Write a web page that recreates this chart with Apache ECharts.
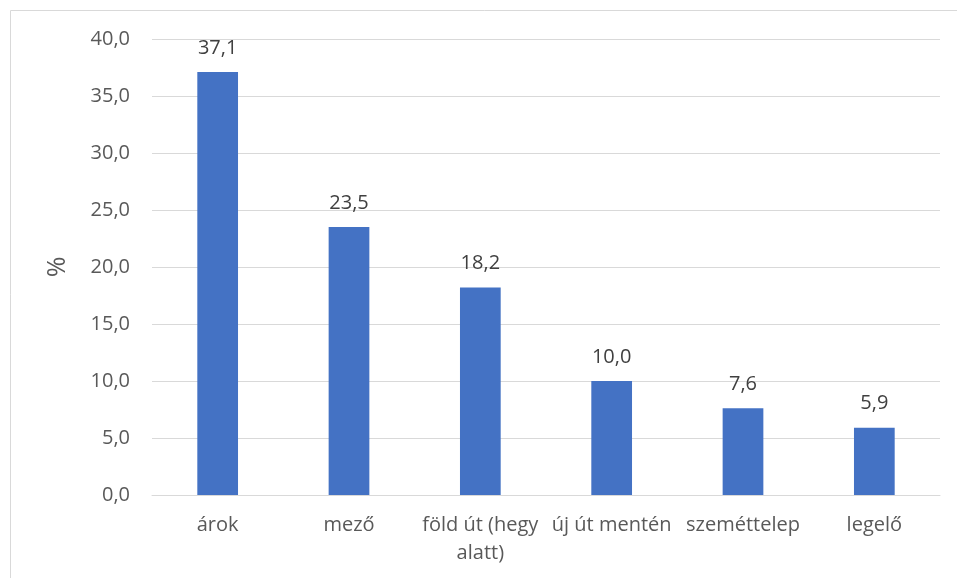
<!DOCTYPE html>
<html><head><meta charset="utf-8">
<script src="https://cdn.jsdelivr.net/npm/echarts@6/dist/echarts.min.js"></script>
<style>html,body{margin:0;padding:0;background:#fff}#c{width:957px;height:578px}</style>
</head><body><div id="c"></div>
<script>
const categories = ['árok', 'mező', 'föld út (hegy\nalatt)', 'új út mentén', 'szeméttelep', 'legelő'];
const values = [37.1, 23.5, 18.2, 10.0, 7.6, 5.9];
const yTicks = [0, 5, 10, 15, 20, 25, 30, 35, 40];
const fmt = v => Number(v).toFixed(1).replace('.', ',');
const chart = echarts.init(document.getElementById('c'));
const FONT = 'Open Sans';
chart.setOption({
  animation: false,
  textStyle: { fontFamily: FONT },
  graphic: [{ type: 'rect', shape: { x: 10.5, y: 10.5, width: 1000, height: 700 }, style: { fill: 'none', stroke: '#d9d9d9', lineWidth: 1 }, silent: true }],
  grid: { left: 152, right: 17, top: 39, bottom: 83, containLabel: false },
  xAxis: {
    type: 'category', data: categories,
    axisTick: { show: false },
    axisLine: { lineStyle: { color: '#d9d9d9', width: 1 } },
    axisLabel: { interval: 0, color: '#595959', fontSize: 20, fontFamily: FONT, margin: 16, lineHeight: 28 }
  },
  yAxis: {
    type: 'value', min: yTicks[0], max: yTicks[yTicks.length - 1], interval: 5,
    name: '%', nameLocation: 'middle', nameRotate: 90, nameGap: 82,
    nameTextStyle: { color: '#595959', fontSize: 25, fontFamily: FONT },
    axisLine: { show: false }, axisTick: { show: false },
    splitLine: { lineStyle: { color: '#d9d9d9', width: 1 } },
    axisLabel: { color: '#595959', fontSize: 20, fontFamily: FONT, margin: 22, formatter: v => fmt(v) }
  },
  series: [{
    type: 'bar', data: values, barWidth: '31%',
    itemStyle: { color: '#4472c4' },
    label: { show: true, position: 'top', distance: 14, color: '#404040', fontSize: 20, fontFamily: FONT, formatter: p => fmt(p.value) }
  }]
});
</script></body></html>
